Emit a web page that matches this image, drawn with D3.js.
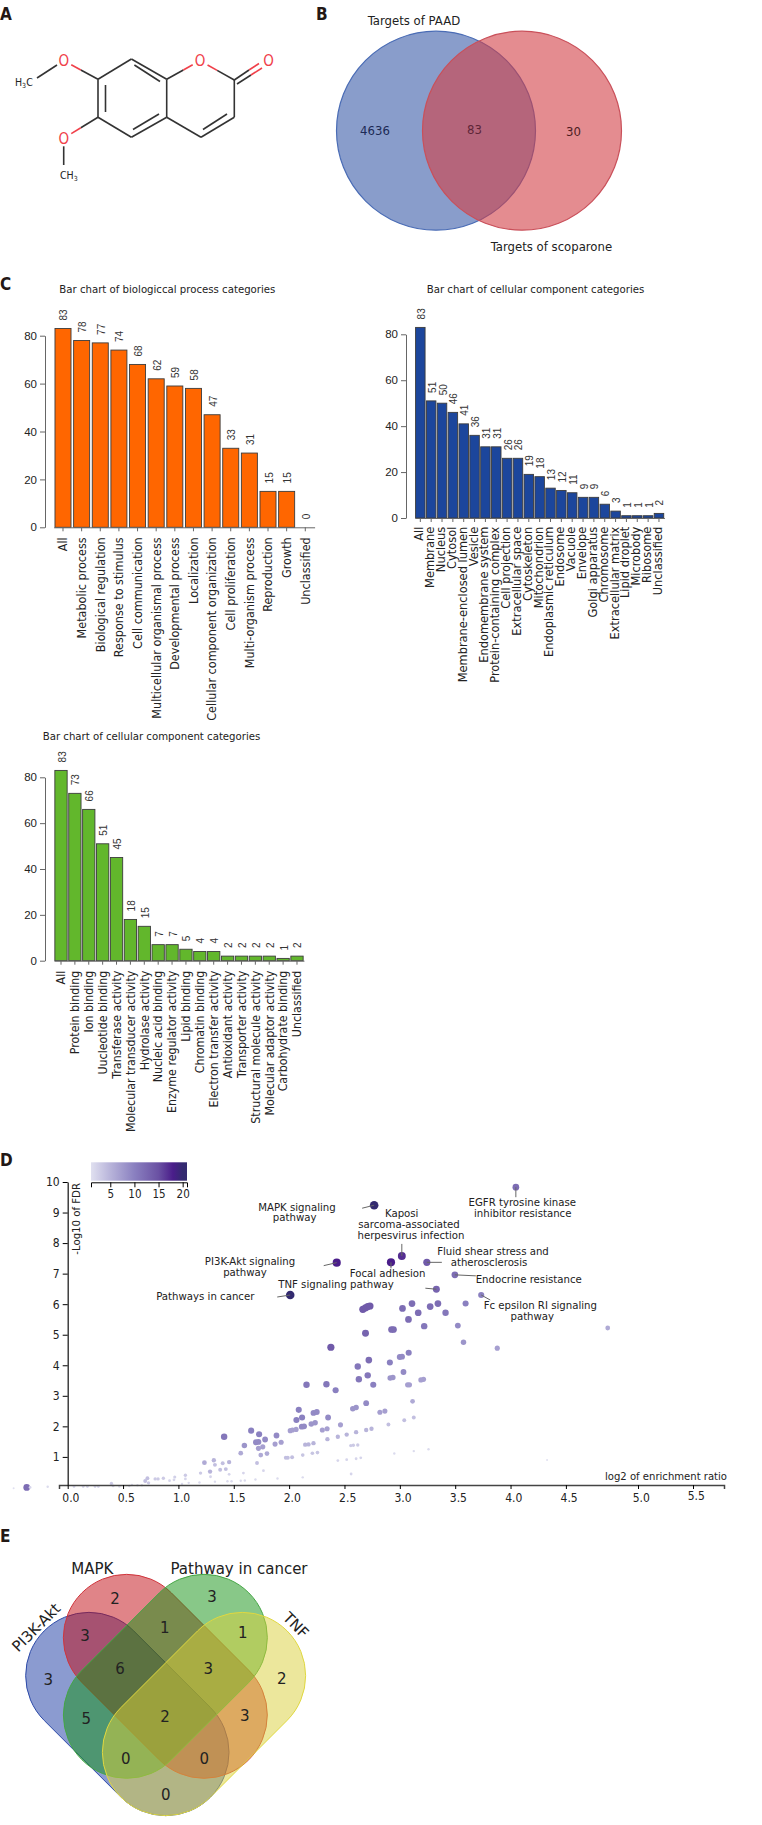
<!DOCTYPE html>
<html>
<head>
<meta charset="utf-8">
<script src="https://cdn.jsdelivr.net/npm/d3@7"></script>
<style>
html, body { margin: 0; padding: 0; background: #fff; }
svg { display: block; }
text { font-family: "DejaVu Sans", sans-serif; font-stretch: condensed; fill: #222; }
.arial text, text.arial { font-family: "Liberation Sans", sans-serif; font-stretch: normal; }
</style>
</head>
<body>
<main></main>
<script>
// panel B
var paadOnly = 4636, shared = 83, scoparoneOnly = 30;

// panel C
var bioCategories = ["All", "Metabolic process", "Biological regulation", "Response to stimulus", "Cell communication",
    "Multicellular organismal process", "Developmental process", "Localization", "Cellular component organization",
    "Cell proliferation", "Multi-organism process", "Reproduction", "Growth", "Unclassified"];
var bioValues = [83, 78, 77, 74, 68, 62, 59, 58, 47, 33, 31, 15, 15, 0];

var cellCategories = ["All", "Membrane", "Nucleus", "Cytosol", "Membrane-enclosed lumen", "Vesicle", "Endomembrane system",
    "Protein-containing complex", "Cell projection", "Extracellular space", "Cytoskeleton", "Mitochondrion",
    "Endoplasmic reticulum", "Endosome", "Vacuole", "Envelope", "Golgi apparatus", "Chromosome", "Extracellular matrix",
    "Lipid droplet", "Microbody", "Ribosome", "Unclassified"];
var cellValues = [83, 51, 50, 46, 41, 36, 31, 31, 26, 26, 19, 18, 13, 12, 11, 9, 9, 6, 3, 1, 1, 1, 2];

var molCategories = ["All", "Protein binding", "Ion binding", "Uucleotide binding", "Transferase activity",
    "Molecular transducer activity", "Hydrolase activity", "Nucleic acid binding", "Enzyme regulator activity",
    "Lipid binding", "Chromatin binding", "Electron transfer activity", "Antioxidant activity", "Transporter activity",
    "Structural molecule activity", "Molecular adaptor activity", "Carbohydrate binding", "Unclassified"];
var molValues = [83, 73, 66, 51, 45, 18, 15, 7, 7, 5, 4, 4, 2, 2, 2, 2, 1, 2];

// panel D: log2 enrichment, -log10 FDR, gene count
var enrichX = [2.768, 2.43, 2.01, 3.018, 2.92, 3.244, 3.497, 3.33, 3.735, 4.048,
    2.666, 2.69, 2.71, 2.73, 2.69, 2.377, 2.72, 2.62, 2.63, 2.71, 2.76, 2.157, 2.337, 2.42, 2.696, 2.575, 2.605, 2.82, 2.865,
    2.087, 2.066, 2.117, 2.22, 2.25, 2.352, 2.114, 2.135, 2.2, 2.235, 2.01, 2.03, 2.063, 2.30, 2.343, 2.464,
    2.44, 2.52, 2.605, 2.696, 2.744, 2.346, 1.413, 1.657, 1.729, 1.783, 1.886, 1.70, 1.723, 1.596, 1.723, 1.762, 1.873, 1.928,
    1.563, 1.744, 1.80, 2.145, 2.175, 2.22, 1.97, 1.988, 2.027, 2.123, 2.21, 2.256, 2.557, 2.58, 2.62,
    2.44, 2.52, 2.605, 2.647, 2.56, 1.71, 1.768, 1.587, 2.123, 1.895, 1.696, 1.6, 1.563, 1.48, 1.443,
    1.235, 1.32, 1.33, 1.286, 1.4, 1.458, 1.377, 1.428, 1.458, 1.2, 1.29, 1.33, 1.19, 1.063, 1.063, 1.093, 1.033,
    0.967, 0.96, 0.92, 0.864, 0.816, 0.79, 0.72, 0.70, 0.73, 0.63, 0.67, 0.58,
    -0.497, -0.377, -0.346, -0.184, 0.057, 0.14, 0.178, 0.247, 0.277, 0.395, 0.41, 0.467, 0.557,
    3.11, 3.024, 3.274, 3.344, 3.594, 3.166, 3.413, 3.078, 3.524, 3.22, 2.925, 2.943, 3.575, 3.88, 4.79,
    3.08, 2.999, 3.02, 2.91, 3.033, 2.913, 2.937, 3.07, 3.087, 3.19, 3.214, 3.115, 3.126, 3.04, 2.897, 2.95, 3.126, 3.259, 4.33];
var enrichY = [9.24, 7.36, 6.30, 7.58, 7.37, 7.37, 6.96, 6.49, 6.30, 9.83,
    5.83, 5.88, 5.92, 5.94, 5.05, 4.59, 4.17, 3.96, 3.54, 3.67, 3.36, 3.36, 3.38, 3.18, 2.76, 2.58, 2.62, 2.46, 2.50,
    2.54, 2.21, 2.29, 2.44, 2.47, 2.29, 1.99, 2.0, 2.08, 2.12, 1.86, 1.88, 1.9, 1.88, 1.92, 2.05,
    1.66, 1.73, 1.81, 1.88, 1.92, 1.58, 1.66, 1.86, 1.74, 1.57, 1.70, 1.48, 1.49, 1.37, 1.28, 1.33, 1.42, 1.48,
    1.12, 1.06, 1.11, 1.40, 1.41, 1.45, 0.97, 0.97, 0.99, 1.06, 1.12, 1.14, 1.37, 1.38, 1.39,
    0.88, 0.91, 0.94, 0.97, 0.44, 0.80, 0.55, 0.47, 0.33, 0.29, 0.26, 0.23, 0.22, 0.2, 0.2,
    0.81, 0.89, 0.74, 0.52, 0.79, 0.83, 0.58, 0.6, 0.43, 0.47, 0.35, 0.19, 0.16, 0.40, 0.28, 0.15, 0.11,
    0.34, 0.25, 0.22, 0.30, 0.28, 0.28, 0.30, 0.21, 0.15, 0.07, 0.07, 0.08,
    -0.03, 0, 0, 0.02, 0.03, 0.03, 0.03, 0.03, 0.03, 0.13, 0.05, 0.03, 0.05,
    6.02, 5.86, 5.92, 6.02, 6.02, 5.72, 5.72, 5.50, 5.30, 5.28, 5.17, 5.17, 4.75, 4.56, 5.22,
    4.41, 4.27, 4.28, 4.09, 3.78, 3.58, 3.6, 3.36, 3.36, 3.52, 3.54, 2.82, 2.29, 2.2, 2.06, 1.11, 1.19, 1.25, 0.9];
var geneCount = [20, 18, 20, 17, 18, 14, 12, 13, 10, 12,
    14, 14, 14, 14, 13, 14, 12, 11, 11, 11, 10, 11, 11, 10, 9, 8, 8, 7, 7,
    10, 10, 10, 9, 9, 9, 9, 9, 8, 8, 7, 7, 7, 7, 7, 7,
    5, 5, 5, 5, 5, 5, 11, 10, 10, 9, 9, 9, 9, 8, 7, 7, 7, 7,
    6, 6, 6, 5, 5, 5, 4, 4, 4, 3.5, 3.5, 3.5, 3, 3, 3,
    2, 2, 2, 2, 2, 4, 2, 2, 1.5, 1.5, 1.5, 1.5, 1.5, 1.5, 1.5,
    6, 5, 4, 5, 4, 5, 4, 4, 2, 3, 2, 1.5, 1.5, 3, 2, 1.5, 1.5,
    2.5, 2, 2, 3, 3, 3, 4, 4, 3, 1.5, 1.5, 1.5,
    1, 12, 2, 1.5, 2, 2, 2, 2, 2, 3, 2, 1.5, 1.5,
    12, 12, 12, 12, 10, 12, 11, 12, 9, 11, 12, 12, 8, 7, 6,
    10, 9, 9, 10, 9, 8, 8, 7, 7, 7, 7, 6, 4, 4, 4, 1.5, 1.5, 1.5, 1];
var xTickValues = [0, 0.5, 1, 1.5, 2, 2.5, 3, 3.5, 4, 4.5, 5, 5.5];
var yTickValues = [1, 2, 3, 4, 5, 6, 7, 8, 9, 10];
var legendTicks = [5, 10, 15, 20];

// panel E
var vennSets = ["PI3K-Akt", "MAPK", "Pathway in cancer", "TNF"];
var vennCounts = [3, 2, 3, 2, 3, 1, 1, 6, 3, 5, 2, 3, 0, 0, 0];

var svg = d3.select("main")
    .append("svg")
    .attr("width", 762)
    .attr("height", 1825);

// panel letters
var letters = [["A", 0, 20], ["B", 316, 20], ["C", 0, 290], ["D", 0, 1166], ["E", 0, 1542]];
svg.selectAll("text.letter").data(letters).enter()
    .append("text")
    .attr("class", "letter")
    .attr("x", function (d) { return d[1]; })
    .attr("y", function (d) { return d[2]; })
    .style("font-weight", "bold")
    .style("font-size", "17px")
    .style("fill", "#231815")
    .text(function (d) { return d[0]; });

drawMolecule();
drawTwoSetVenn();

drawBars({
    title: "Bar chart of biologiccal process categories", titleX: 59.3, titleY: 289,
    categories: bioCategories, values: bioValues, color: "#ff6600",
    x0: 53.68, x1: 314.6, padding: 0.14, y0: 527.3, y80: 335.7, axisX: 45, labelGap: 10, labelSize: 12.5, labelDx: 0
});
drawBars({
    title: "Bar chart of cellular component categories", titleX: 426.7, titleY: 289,
    categories: cellCategories, values: cellValues, color: "#1c469c",
    x0: 414.9, x1: 664.4, padding: 0.125, y0: 518, y80: 334.3, axisX: 406, labelGap: 8.7, labelSize: 12.7, labelDx: -1.5
});
drawBars({
    title: "Bar chart of cellular component categories", titleX: 42.7, titleY: 736,
    categories: molCategories, values: molValues, color: "#62b72c",
    x0: 54.06, x1: 303.94, padding: 0.114, y0: 960.7, y80: 777.3, axisX: 45, labelGap: 10, labelSize: 12.3, labelDx: 0
});

drawVolcano();
drawFourSetVenn();

function drawMolecule() {
    var g = svg.append("g").attr("id", "molecule");
    var a = {
        top: [131.4, 59], ur: [166.7, 79.3], lr: [166.7, 117.3], bot: [131.4, 137.3], ll: [98, 117.3], ul: [98, 79.3],
        o1: [200, 60.7], c2: [234.3, 80], c3: [234.3, 117.3], c4: [201, 137.3], o3: [268.6, 60.7],
        om1: [63.7, 60.7], me1: [37, 78], om2: [63.7, 138.3], me2: [63.7, 165]
    };
    var dark = "#333", red = "#f0404a";

    function bond(p, q, c) {
        g.append("line")
            .attr("x1", p[0]).attr("y1", p[1]).attr("x2", q[0]).attr("y2", q[1])
            .attr("stroke", c).attr("stroke-width", 1.6);
    }
    function mix(p, q, t) { return [p[0] + (q[0] - p[0]) * t, p[1] + (q[1] - p[1]) * t]; }
    function heteroBond(p, q) {
        // half dark, half red, with a gap left for the O label
        bond(p, mix(p, q, 0.5), dark);
        bond(mix(p, q, 0.5), mix(p, q, 0.78), red);
    }

    [["top", "ur"], ["ur", "lr"], ["lr", "bot"], ["bot", "ll"], ["ll", "ul"], ["ul", "top"], ["c2", "c3"], ["c3", "c4"], ["c4", "lr"]]
        .forEach(function (b) { bond(a[b[0]], a[b[1]], dark); });
    bond([134.4, 65], [160, 81.5], dark);
    bond([105.5, 85], [105.5, 112], dark);
    bond([133, 129.5], [159, 114], dark);
    bond([203, 129.5], [227, 114], dark);

    heteroBond(a.ur, a.o1);
    heteroBond(a.c2, a.o1);
    heteroBond(a.ul, a.om1);
    heteroBond(a.ll, a.om2);

    bond([234.3, 80], [249, 70], dark);
    bond([249, 70], [259, 63.5], red);
    bond([237, 84], [251, 75], dark);
    bond([251, 75], [262, 68], red);

    bond(mix(a.om1, a.me1, 0.25), a.me1, dark);
    bond(mix(a.om2, a.me2, 0.3), a.me2, dark);

    [["O", 63.7, 60.7], ["O", 63.7, 138.3], ["O", 200, 60.7], ["O", 268.6, 60.7]].forEach(function (o) {
        g.append("text").attr("x", o[1]).attr("y", o[2]).attr("dy", ".36em")
            .attr("text-anchor", "middle")
            .style("font-size", "15px").style("fill", red).text(o[0]);
    });
    var h3c = g.append("text").attr("x", 15).attr("y", 86).style("font-size", "10.5px");
    h3c.append("tspan").text("H");
    h3c.append("tspan").attr("dy", 2).style("font-size", "7px").text("3");
    h3c.append("tspan").attr("dy", -2).text("C");
    var ch3 = g.append("text").attr("x", 60).attr("y", 179).style("font-size", "10.5px");
    ch3.append("tspan").text("CH");
    ch3.append("tspan").attr("dy", 2).style("font-size", "7px").text("3");
}

function drawTwoSetVenn() {
    var g = svg.append("g").attr("id", "venn-two");
    var sets = [
        { cx: 436, fill: "#3a5ba8", stroke: "#4a6cb5" },
        { cx: 522, fill: "#d23f46", stroke: "#c9505a" }
    ];
    g.selectAll("circle").data(sets).enter()
        .append("circle")
        .attr("cx", function (d) { return d.cx; })
        .attr("cy", 130.7)
        .attr("r", 99.5)
        .attr("fill", function (d) { return d.fill; })
        .attr("fill-opacity", 0.6)
        .attr("stroke", function (d) { return d.stroke; })
        .attr("stroke-width", 1.2);

    var labels = [
        ["Targets of PAAD", 414, 20, "#222"], [paadOnly, 375, 130, "#1c2a55"], [shared, 474.5, 129, "#5e2538"],
        [scoparoneOnly, 573.5, 131, "#4e1c22"], ["Targets of scoparone", 551.5, 246.7, "#222"]
    ];
    g.selectAll("text").data(labels).enter()
        .append("text")
        .attr("x", function (d) { return d[1]; })
        .attr("y", function (d) { return d[2]; })
        .attr("dy", ".36em")
        .attr("text-anchor", "middle")
        .style("font-size", "13px")
        .style("fill", function (d) { return d[3]; })
        .text(function (d) { return d[0]; });
}

function drawBars(c) {
    var g = svg.append("g");

    var x = d3.scaleBand()
        .domain(c.categories)
        .range([c.x0, c.x1])
        .paddingInner(c.padding)
        .paddingOuter(c.padding / 2);
    var y = d3.scaleLinear().domain([0, 80]).range([c.y0, c.y80]);

    g.append("text")
        .attr("x", c.titleX)
        .attr("y", c.titleY)
        .attr("dy", ".36em")
        .style("font-size", "11.3px")
        .text(c.title);

    g.selectAll("rect")
        .data(c.values)
        .enter()
        .append("rect")
        .attr("x", function (d, i) { return x(c.categories[i]); })
        .attr("y", function (d) { return y(d); })
        .attr("width", x.bandwidth())
        .attr("height", function (d) { return y(0) - y(d); })
        .attr("fill", c.color)
        .attr("stroke", "#3c3c3c")
        .attr("stroke-width", 0.9);

    g.selectAll("text.value")
        .data(c.values)
        .enter()
        .append("text")
        .attr("class", "value arial")
        .attr("transform", function (d, i) {
            return "translate(" + (x(c.categories[i]) + x.bandwidth() / 2 + 1) + "," + (y(d) - 8) + ") rotate(-90)";
        })
        .attr("dy", ".35em")
        .style("font-size", "10px")
        .style("fill", "#333")
        .text(function (d) { return d; });

    var yAxis = g.append("g")
        .attr("class", "arial")
        .attr("transform", "translate(" + c.axisX + ",0)")
        .call(d3.axisLeft(y).tickValues([0, 20, 40, 60, 80]).tickSize(5).tickSizeOuter(0));
    yAxis.selectAll("text").style("font-size", "11.5px").attr("x", -8);

    var xAxis = g.append("g")
        .attr("transform", "translate(0," + c.y0 + ")")
        .call(d3.axisBottom(x).tickSize(4).tickSizeOuter(0));
    xAxis.selectAll("text")
        .attr("transform", "rotate(-90)")
        .attr("text-anchor", "end")
        .attr("x", -c.labelGap)
        .attr("y", c.labelDx)
        .attr("dy", ".35em")
        .style("font-size", c.labelSize + "px");

    g.selectAll(".domain, .tick line").attr("stroke", "#666").attr("stroke-width", 1);
}

function drawVolcano() {
    var g = svg.append("g").attr("id", "volcano");

    var x = d3.scaleLinear()
        .domain([-0.08, 0, 4.5, 5, 5.5, 5.78])
        .range([59, 67.7, 565.9, 638, 693, 724]);
    var y = d3.scaleLinear().domain([0.08, 10]).range([1485, 1182]);
    var color = d3.scaleLinear()
        .domain([1, 5, 10, 15, 18, 20])
        .range(["#e0e0f0", "#b8b4da", "#8a80c0", "#6a51a3", "#4a1d8a", "#332a70"]);
    var radius = d3.scaleSqrt().domain([1, 20]).range([1, 4.3]);

    // colour legend
    var legend = d3.scaleLinear().domain([1, 20.9]).range([91, 187]);
    var grad = svg.append("defs").append("linearGradient").attr("id", "legend-grad");
    grad.selectAll("stop").data(color.domain()).enter()
        .append("stop")
        .attr("offset", function (d) { return (legend(d) - 91) / 96; })
        .attr("stop-color", function (d) { return color(d); });
    g.append("rect")
        .attr("x", legend(1)).attr("y", 1162.3)
        .attr("width", legend(20.9) - legend(1)).attr("height", 18.4)
        .attr("fill", "url(#legend-grad)");
    var legendAxis = g.append("g")
        .attr("transform", "translate(0,1182.3)")
        .call(d3.axisBottom(legend).tickValues(legendTicks).tickSize(5).tickFormat(d3.format("d")));
    legendAxis.selectAll("text").style("font-size", "11.5px");

    var points = enrichX.map(function (d, i) { return { x: d, y: enrichY[i], n: geneCount[i] }; });
    g.selectAll("circle")
        .data(points)
        .enter()
        .append("circle")
        .attr("cx", function (d) { return x(d.x); })
        .attr("cy", function (d) { return y(d.y); })
        .attr("r", function (d) { return radius(d.n); })
        .attr("fill", function (d) { return color(d.n); });

    var xAxis = g.append("g")
        .attr("transform", "translate(0,1485)")
        .call(d3.axisBottom(x).tickValues(xTickValues).tickSize(4).tickFormat(d3.format(".1f")));
    xAxis.selectAll("text")
        .style("font-size", "12px")
        .attr("dx", 2.7)
        .attr("y", function (d) { return d === 5.5 ? 6 : 8; });
    xAxis.select(".domain").attr("stroke", "#444").attr("stroke-width", 1.5);

    var yAxis = g.append("g")
        .attr("transform", "translate(67.7,0)")
        .call(d3.axisLeft(y).tickValues(yTickValues).tickSize(5).tickSizeOuter(0).tickFormat(d3.format("d")));
    yAxis.selectAll("text").style("font-size", "12px").attr("x", -8);
    yAxis.select(".domain").attr("stroke", "#222").attr("stroke-width", 1.3);

    g.append("text")
        .attr("transform", "translate(75.7,1183) rotate(-90)")
        .attr("text-anchor", "end")
        .attr("dy", ".36em")
        .style("font-size", "11.3px")
        .text("-Log10 of FDR");
    g.append("text")
        .attr("x", 605).attr("y", 1476).attr("dy", ".36em")
        .style("font-size", "11.2px")
        .text("log2 of enrichment ratio");

    // pathway names, text centres
    var annotations = [
        ["MAPK signaling", 297, 1206.7], ["pathway", 294.7, 1217],
        ["PI3K-Akt signaling", 250, 1260.7], ["pathway", 245, 1271.7],
        ["TNF signaling pathway", 336, 1284],
        ["Pathways in cancer", 205.3, 1296],
        ["Focal adhesion", 387.7, 1273.3],
        ["Kaposi", 401.7, 1213.3], ["sarcoma-associated", 409, 1224], ["herpesvirus infection", 411, 1235.3],
        ["EGFR tyrosine kinase", 522.3, 1201.7], ["inhibitor resistance", 522.7, 1212.7],
        ["Fluid shear stress and", 493, 1251.3], ["atherosclerosis", 489, 1262.3],
        ["Endocrine resistance", 528.7, 1279.3],
        ["Fc epsilon RI signaling", 540.3, 1305.3], ["pathway", 532.3, 1316]
    ];
    g.selectAll("text.anno").data(annotations).enter()
        .append("text")
        .attr("class", "anno")
        .attr("x", function (d) { return d[1]; })
        .attr("y", function (d) { return d[2]; })
        .attr("dy", ".36em")
        .attr("text-anchor", "middle")
        .style("font-size", "11.3px")
        .text(function (d) { return d[0]; });

    // leader lines run from a labelled point (index into the arrays) to a pixel offset
    var leaders = [[0, -12, 3], [1, -13, 3], [2, -13, 2], [3, 0, -12], [4, 0, 6], [5, 15, 0], [6, 21, 1], [7, -11, -1], [8, 9, 5], [9, 0, 10]];
    g.selectAll("line.leader").data(leaders).enter()
        .append("line")
        .attr("class", "leader")
        .attr("x1", function (d) { return x(enrichX[d[0]]); })
        .attr("y1", function (d) { return y(enrichY[d[0]]); })
        .attr("x2", function (d) { return x(enrichX[d[0]]) + d[1]; })
        .attr("y2", function (d) { return y(enrichY[d[0]]) + d[2]; })
        .attr("stroke", "#666")
        .attr("stroke-width", 1);
}

function stadium(ax, ay, bx, by, r) {
    var ang = Math.atan2(by - ay, bx - ax);
    var nx = -Math.sin(ang) * r, ny = Math.cos(ang) * r;
    var p = d3.path();
    p.moveTo(ax + nx, ay + ny);
    p.lineTo(bx + nx, by + ny);
    p.arc(bx, by, r, ang + Math.PI / 2, ang - Math.PI / 2, true);
    p.lineTo(ax - nx, ay - ny);
    p.arc(ax, ay, r, ang - Math.PI / 2, ang + Math.PI / 2, true);
    p.closePath();
    return p.toString();
}

function drawFourSetVenn() {
    var g = svg.append("g").attr("id", "venn-four");
    var shapes = [
        { c: [89, 1675.7, 165.7, 1752.3], fill: "#1737a1", stroke: "#2c4aa8" },
        { c: [126.7, 1637.7, 204, 1715], fill: "#c10911", stroke: "#d0353c" },
        { c: [204, 1637.7, 126.7, 1715], fill: "#119111", stroke: "#45a645" },
        { c: [242.3, 1675.7, 165.7, 1752.3], fill: "#d9cf39", stroke: "#e0d840" }
    ];
    g.selectAll("path").data(shapes).enter()
        .append("path")
        .attr("d", function (d) { return stadium(d.c[0], d.c[1], d.c[2], d.c[3], 63.3); })
        .attr("fill", function (d) { return d.fill; })
        .attr("fill-opacity", 0.5)
        .attr("stroke", function (d) { return d.stroke; })
        .attr("stroke-width", 1);

    var countSpots = [[48.3, 1679.3], [115, 1598.7], [212, 1597], [281.7, 1678.3], [85, 1635.7], [164.7, 1627.3], [242.7, 1632.7],
        [120, 1668.3], [208.3, 1669], [86.3, 1718.7], [165, 1716.7], [244.7, 1715.7], [125.7, 1758.7], [204.3, 1758.7], [165.7, 1794.7]];
    g.selectAll("text.count").data(vennCounts).enter()
        .append("text")
        .attr("class", "count")
        .attr("x", function (d, i) { return countSpots[i][0]; })
        .attr("y", function (d, i) { return countSpots[i][1]; })
        .attr("dy", ".36em")
        .attr("text-anchor", "middle")
        .style("font-size", "15px")
        .style("font-stretch", "normal")
        .text(function (d) { return d; });

    var nameSpots = [[36, 1627.3, -45], [92.3, 1569, 0], [239, 1569, 0], [296, 1625, 45]];
    g.selectAll("text.set").data(vennSets).enter()
        .append("text")
        .attr("class", "set")
        .attr("transform", function (d, i) {
            return "translate(" + nameSpots[i][0] + "," + nameSpots[i][1] + ") rotate(" + nameSpots[i][2] + ")";
        })
        .attr("dy", ".36em")
        .attr("text-anchor", "middle")
        .style("font-size", "15px")
        .style("font-stretch", "normal")
        .text(function (d) { return d; });
}
</script>
</body>
</html>
